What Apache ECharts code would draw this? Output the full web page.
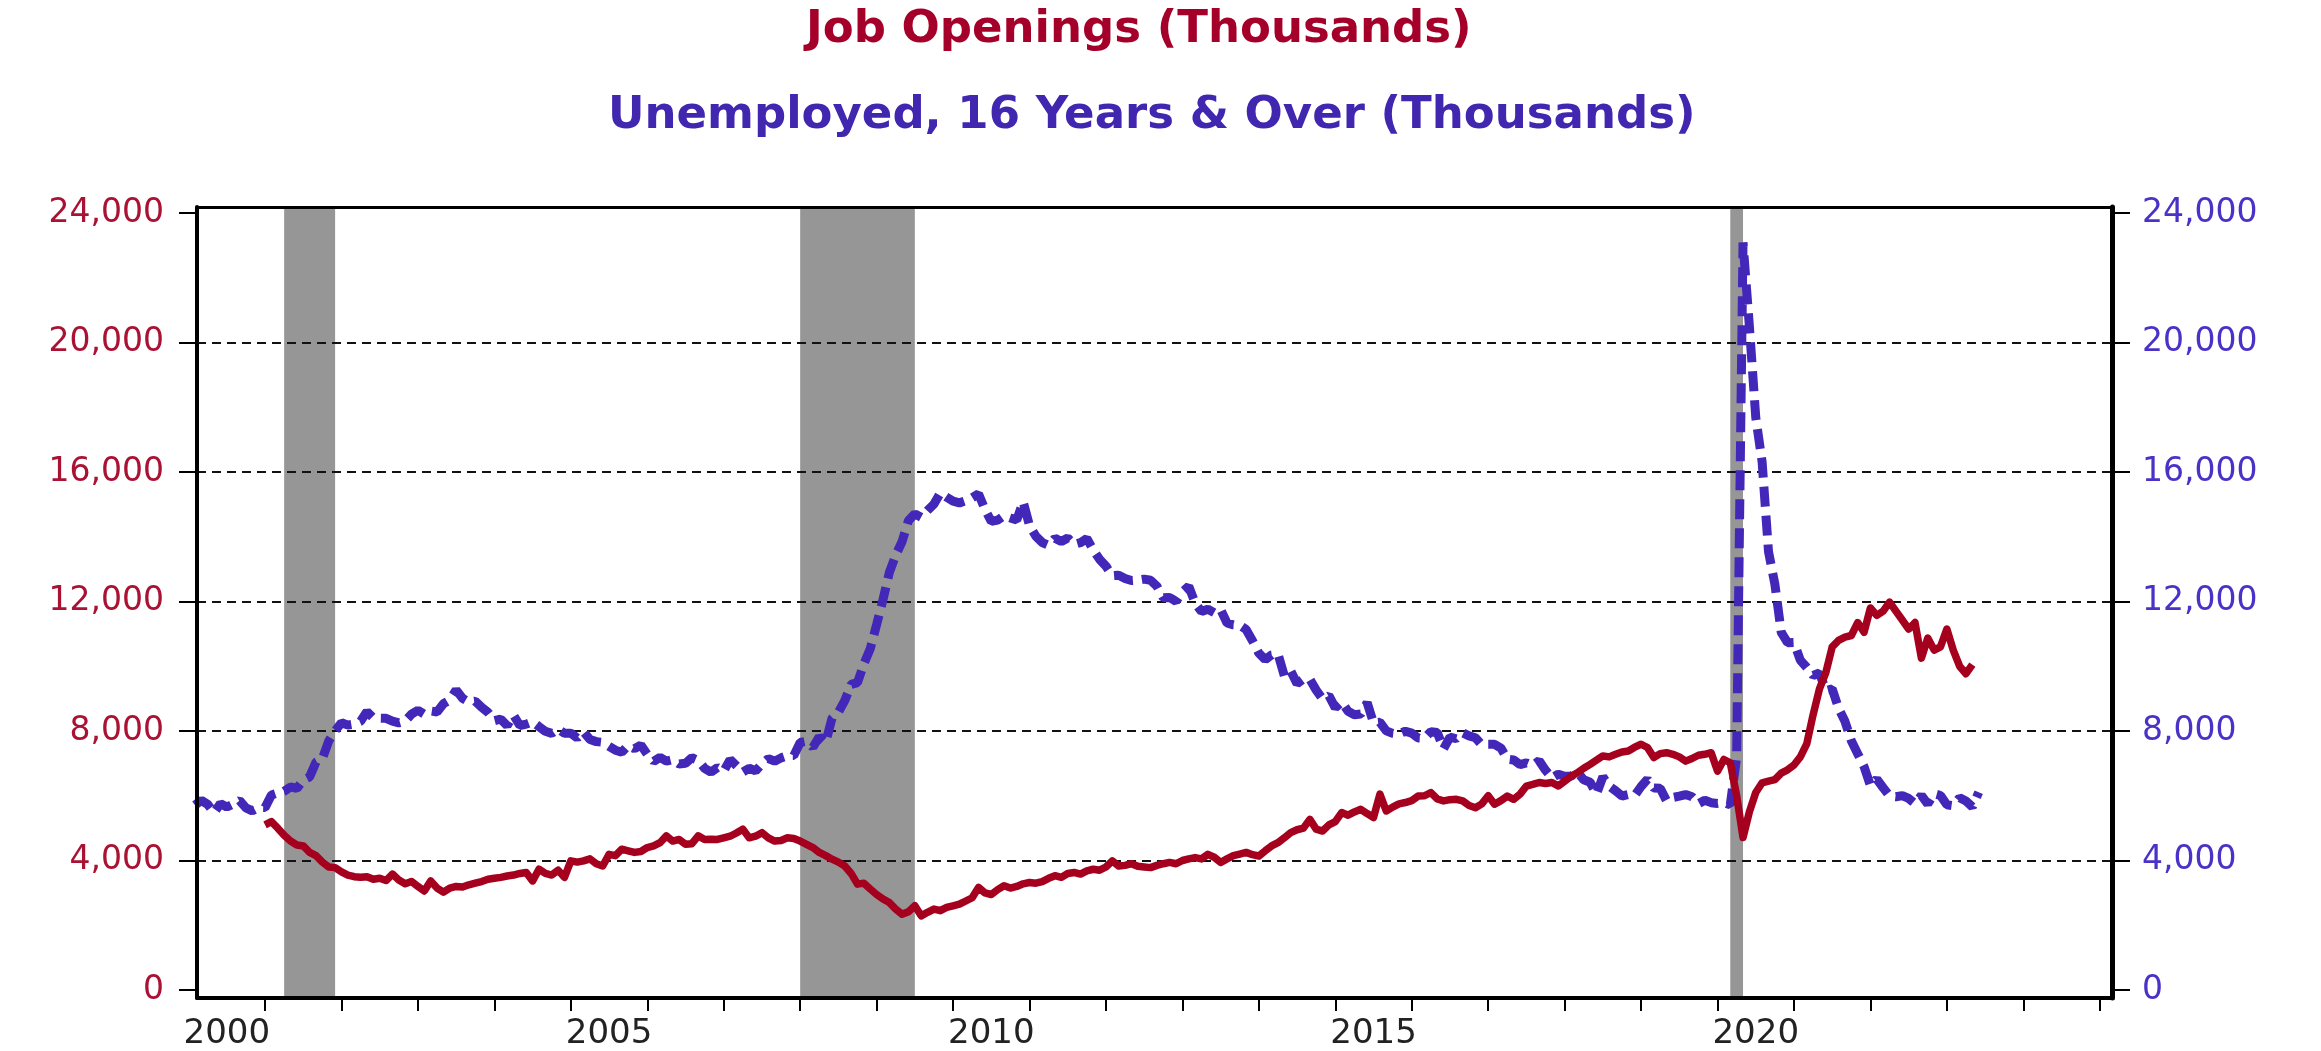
<!DOCTYPE html>
<html>
<head>
<meta charset="utf-8">
<script src="https://cdn.jsdelivr.net/npm/echarts@6/dist/echarts.min.js"></script>
<style>
html,body{margin:0;padding:0;background:#ffffff;}
#chart{width:2321px;height:1051px;}
</style>
</head>
<body>
<div id="chart"></div>
<script>
// ---------------- DATA ----------------
const titleLines = ['Job Openings (Thousands)', 'Unemployed, 16 Years & Over (Thousands)'];

// Unemployed, 16 years & over (thousands), monthly from Jan 2000
const unemployedStart = [2000, 1];
const unemployed = [
  5708, 5858, 5733, 5481, 5758, 5651, 5747, 5853, 5625, 5534, 5639, 5634,
  6023, 6089, 6141, 6271, 6226, 6484, 6583, 7042, 7142, 7694, 8003, 8258,
  8182, 8215, 8304, 8599, 8399, 8393, 8390, 8304, 8251, 8307, 8520, 8640,
  8520, 8618, 8588, 8842, 8957, 9266, 9011, 8896, 8921, 8732, 8576, 8317,
  8370, 8167, 8491, 8170, 8212, 8286, 8136, 7990, 7927, 8061, 7932, 7934,
  7784, 7980, 7737, 7672, 7651, 7524, 7406, 7345, 7553, 7453, 7566, 7279,
  7064, 7184, 7072, 7120, 6980, 7001, 7175, 7091, 6847, 6727, 6872, 6762,
  7116, 6927, 6731, 6850, 6766, 6979, 7149, 7067, 7170, 7237, 7240, 7645,
  7685, 7497, 7822, 7637, 8395, 8575, 8937, 9438, 9494, 10074, 10538, 11286,
  12058, 12898, 13426, 13853, 14499, 14707, 14601, 14814, 15009, 15352, 15219, 15098,
  15046, 15113, 15202, 15325, 14849, 14474, 14512, 14648, 14579, 14516, 15081, 14348,
  14013, 13820, 13737, 13957, 13855, 13962, 13763, 13818, 13948, 13594, 13302, 13093,
  12797, 12813, 12713, 12646, 12660, 12692, 12656, 12471, 12115, 12124, 12005, 12298,
  12471, 11950, 11689, 11760, 11654, 11751, 11335, 11279, 11270, 11136, 10787, 10404,
  10202, 10349, 10380, 9702, 9859, 9460, 9608, 9599, 9262, 8990, 9090, 8717,
  8903, 8610, 8504, 8526, 8875, 8249, 8271, 8005, 7928, 7908, 7992, 7933,
  7783, 7774, 7980, 7955, 7453, 7811, 7761, 7943, 7849, 7791, 7571, 7590,
  7589, 7474, 7131, 7106, 6962, 7015, 6932, 7084, 6788, 6551, 6667, 6600,
  6600, 6731, 6492, 6417, 6053, 6585, 6295, 6154, 5992, 6037, 6010, 6286,
  6508, 6240, 6230, 5845, 5948, 5987, 6036, 5970, 5757, 5863, 5786, 5763,
  5796, 5717, 7185, 23090, 20500, 17690, 16308, 13542, 12535, 11049, 10728, 10736,
  10183, 9965, 9715, 9794, 9249, 9300, 8700, 8300, 7700, 7300, 6900, 6312,
  6516, 6248, 5993, 5968, 6006, 5918, 5757, 6012, 5746, 6061, 6008, 5720,
  5694, 5937, 5839, 5657, 6106
];

// Job openings (thousands), monthly from Dec 2000
const jobOpeningsStart = [2000, 12];
const jobOpenings = [
  5100,
  5200, 5000, 4780, 4600, 4480, 4450, 4250, 4150, 3950, 3800, 3780, 3650,
  3550, 3500, 3480, 3500, 3420, 3450, 3380, 3580, 3400, 3280, 3350, 3200,
  3060, 3370, 3150, 3020, 3150, 3200, 3180, 3250, 3300, 3350, 3420, 3450,
  3480, 3520, 3550, 3600, 3630, 3370, 3730, 3600, 3550, 3700, 3480, 3990,
  3950, 3990, 4050, 3900, 3830, 4190, 4150, 4350, 4300, 4250, 4280, 4400,
  4450, 4550, 4760, 4600, 4650, 4500, 4520, 4760, 4650, 4660, 4650, 4700,
  4750, 4850, 4970, 4700, 4750, 4860, 4700, 4600, 4620, 4700, 4680, 4600,
  4500, 4400, 4250, 4150, 4040, 3950, 3830, 3600, 3270, 3300, 3120, 2950,
  2810, 2700, 2500, 2340, 2420, 2600, 2290, 2400, 2500, 2450, 2550, 2600,
  2650, 2750, 2850, 3170, 3000, 2950, 3100, 3220, 3150, 3200, 3280, 3320,
  3300, 3350, 3450, 3530, 3480, 3600, 3630, 3580, 3680, 3730, 3700, 3800,
  3990, 3830, 3850, 3900, 3820, 3800, 3780, 3850, 3900, 3940, 3900, 4000,
  4050, 4090, 4050, 4190, 4100, 3940, 4050, 4150, 4200, 4250, 4180, 4140,
  4300, 4450, 4550, 4700, 4860, 4950, 5000, 5270, 4970, 4910, 5100, 5200,
  5480, 5400, 5500, 5580, 5450, 5330, 6050, 5530, 5650, 5750, 5790, 5850,
  5990, 6000, 6100, 5900, 5840, 5880, 5890, 5840, 5700, 5630, 5750, 6000,
  5740, 5850, 5990, 5890, 6050, 6300, 6350, 6410, 6380, 6410, 6300, 6450,
  6600, 6710, 6850, 6970, 7100, 7230, 7200, 7280, 7350, 7380, 7500, 7590,
  7490, 7180, 7300, 7330, 7280, 7200, 7070, 7150, 7250, 7280, 7330, 6760,
  7120, 7020, 6000, 4710, 5500, 6100, 6400, 6450, 6500, 6700, 6800, 6950,
  7200, 7600, 8500, 9300, 9800, 10600, 10800, 10900, 10950, 11350, 11050, 11800,
  11570, 11700, 11980, 11700, 11430, 11150, 11350, 10250, 10870, 10500, 10600, 11150,
  10500, 10000, 9770, 10050
];

// NBER recessions: [start year, month], [end year, month]
const recessions = [
  [[2001, 3], [2001, 11]],
  [[2007, 12], [2009, 6]],
  [[2020, 2], [2020, 4]]
];

const yTickValues = [0, 4000, 8000, 12000, 16000, 20000, 24000];
const gridLineValues = [4000, 8000, 12000, 16000, 20000];
const xTickYears = [2001, 2002, 2003, 2004, 2005, 2006, 2007, 2008, 2009, 2010, 2011, 2012,
  2013, 2014, 2015, 2016, 2017, 2018, 2019, 2020, 2021, 2022, 2023, 2024, 2025];
const xLabelYears = [2000, 2005, 2010, 2015, 2020];

// ---------------- HELPERS ----------------
function monthPos(y, m) { return y + m / 12; }
function toPairs(start, values) {
  return values.map(function (v, i) {
    const idx = start[1] - 1 + i;
    const y = start[0] + Math.floor(idx / 12);
    const m = (idx % 12) + 1;
    return [monthPos(y, m), v];
  });
}

const X_MIN = 2000.11, X_MAX = 2025.16;
const Y_MIN = -247, Y_MAX = 24185;

const RED = '#A6001F';
const PURPLE = '#4327B8';
const FONT = 'DejaVu Sans';

const chart = echarts.init(document.getElementById('chart'), null, { renderer: 'canvas' });

const option = {
  animation: false,
  backgroundColor: '#ffffff',
  title: [
    {
      text: titleLines[0], left: 806, top: 3, padding: [5, 0, 5, 0],
      textStyle: { fontFamily: FONT, fontWeight: 'bold', fontSize: 45, color: '#A5002A' }
    },
    {
      text: titleLines[1], left: 608, top: 89, padding: [5, 0, 5, 0],
      textStyle: { fontFamily: FONT, fontWeight: 'bold', fontSize: 45, color: '#4126B0' }
    }
  ],
  grid: { left: 197, right: 209, top: 207, bottom: 52, containLabel: false, show: false },
  xAxis: [
    {
      type: 'value', position: 'bottom', min: X_MIN, max: X_MAX, z: 4,
      axisLine: { show: true, onZero: false, lineStyle: { color: '#000', width: 4 } },
      axisTick: { show: true, inside: false, length: 13, customValues: xTickYears,
        lineStyle: { color: '#000', width: 2 } },
      axisLabel: { show: true, customValues: xLabelYears.map(function (y) { return y + 0.5; }),
        formatter: function (v) { return String(Math.floor(v)); },
        fontFamily: FONT, fontSize: 34, color: '#222', margin: 19 },
      splitLine: { show: false }
    },
    {
      type: 'value', position: 'top', min: X_MIN, max: X_MAX, z: 4,
      axisLine: { show: true, onZero: false, lineStyle: { color: '#000', width: 3 } },
      axisTick: { show: false }, axisLabel: { show: false }, splitLine: { show: false }
    }
  ],
  yAxis: [
    {
      type: 'value', position: 'left', min: Y_MIN, max: Y_MAX, z: 4,
      axisLine: { show: true, onZero: false, lineStyle: { color: '#000', width: 4 } },
      axisTick: { show: true, inside: false, length: 18, customValues: yTickValues,
        lineStyle: { color: '#000', width: 2 } },
      axisLabel: { show: true, customValues: yTickValues,
        formatter: function (v) { return Number(v).toLocaleString('en-US'); },
        fontFamily: FONT, fontSize: 33, color: '#AA1234', margin: 33 },
      splitLine: { show: false }
    },
    {
      type: 'value', position: 'right', min: Y_MIN, max: Y_MAX, z: 4,
      axisLine: { show: true, onZero: false, lineStyle: { color: '#000', width: 5 } },
      axisTick: { show: true, inside: false, length: 18, customValues: yTickValues,
        lineStyle: { color: '#000', width: 2 } },
      axisLabel: { show: true, customValues: yTickValues,
        formatter: function (v) { return Number(v).toLocaleString('en-US'); },
        fontFamily: FONT, fontSize: 33, color: '#4A32C8', margin: 30 },
      splitLine: { show: false }
    }
  ],
  series: [
    {
      name: 'Recessions & grid', type: 'line', data: [], xAxisIndex: 0, yAxisIndex: 0,
      silent: true,
      markArea: {
        silent: true, z: 1,
        itemStyle: { color: '#969696', opacity: 1 },
        data: recessions.map(function (r) {
          return [{ xAxis: monthPos(r[0][0], r[0][1]) }, { xAxis: monthPos(r[1][0], r[1][1]) }];
        })
      },
      markLine: {
        silent: true, z: 1.5, symbol: ['none', 'none'], animation: false,
        label: { show: false },
        lineStyle: { color: '#111', width: 2, type: [9, 6] },
        emphasis: { disabled: true },
        data: gridLineValues.map(function (v) { return { yAxis: v }; })
      }
    },
    {
      name: 'Unemployed, 16 Years & Over', type: 'line', xAxisIndex: 0, yAxisIndex: 1,
      data: toPairs(unemployedStart, unemployed), showSymbol: false, symbol: 'none', z: 2,
      lineStyle: { color: PURPLE, width: 9, type: [20, 9], cap: 'butt' }
    },
    {
      name: 'Job Openings', type: 'line', xAxisIndex: 0, yAxisIndex: 0,
      data: toPairs(jobOpeningsStart, jobOpenings), showSymbol: false, symbol: 'none', z: 3,
      lineStyle: { color: RED, width: 7.5, join: 'round' }
    }
  ]
};

chart.setOption(option);
</script>
</body>
</html>
